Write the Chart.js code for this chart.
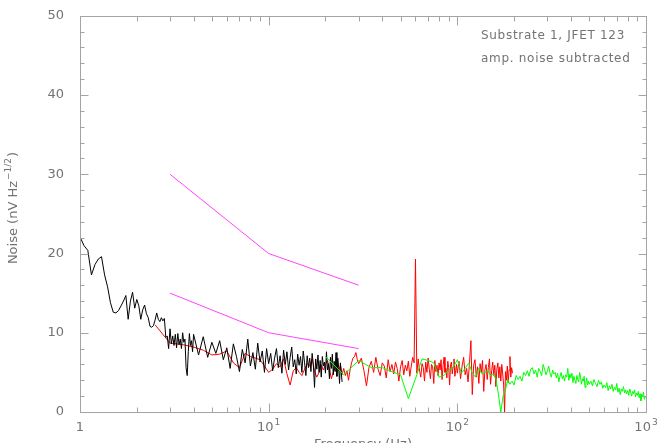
<!DOCTYPE html>
<html>
<head>
<meta charset="utf-8">
<title>Noise spectrum - Substrate 1, JFET 123</title>
<script src="https://cdn.jsdelivr.net/npm/chart.js@4/dist/chart.umd.min.js"></script>
<style>
  html, body { margin: 0; padding: 0; background: #fff; overflow: hidden; }
  #chart { display: block; }
</style>
</head>
<body>
<canvas id="chart" width="658" height="443"></canvas>
<script>
// Noise spectra (values in nV/sqrt(Hz))

// black trace: 1.00 - 4.00 Hz in 0.05 Hz bins, then 4.25 - 24.5 Hz in 0.25 Hz bins
const blackLow = [
    22.1, 21.0, 20.4, 17.3, 18.6, 19.3, 19.6, 17.3, 15.8, 13.8,
    12.6, 12.5, 12.8, 13.4, 14.0, 14.7, 11.7, 14.0, 15.1, 13.1,
    14.2, 13.4, 11.7, 12.9, 13.5, 12.4, 11.9, 10.8, 10.7, 10.9,
    11.6, 12.5, 11.7, 11.4, 11.9, 11.5, 11.8, 9.4, 9.6, 8.0,
    10.5, 8.6, 9.6, 8.4, 9.8, 8.1, 9.9, 8.5, 9.2, 8.0,
    10.0, 8.8, 9.2, 5.6, 4.6, 7.6, 9.9, 8.4, 9.0, 7.6,
    9.8
];
const blackHigh = [
    7.2, 9.5, 6.9, 8.8, 7.4, 9.0, 6.6, 8.1,
    5.5, 8.6, 7.0, 5.1, 7.9, 6.2, 9.2, 5.8,
    7.5, 5.4, 8.7, 6.3, 7.7, 5.0, 8.0, 6.1,
    7.4, 5.2, 6.8, 8.0, 5.6, 7.1, 4.9, 7.8,
    6.0, 7.6, 5.3, 6.9, 8.2, 5.7, 6.6, 4.8,
    7.3, 5.9, 7.0, 5.0, 7.7, 6.2, 4.6, 7.1,
    5.6, 6.8, 5.1, 7.4, 6.0, 3.1, 6.7, 5.4,
    7.2, 5.0, 6.5, 4.4, 7.0, 5.8, 6.3, 4.9,
    7.6, 5.3, 6.1, 4.2, 6.9, 5.5, 7.3, 4.7,
    6.4, 5.1, 7.5, 4.5, 6.8, 5.6, 3.6, 6.2,
    5.0, 3.8
];

// red trace: 2.5 - 30 Hz (0.5 Hz bins), 31 - 100 Hz (1 Hz), 102 - 196 Hz (2 Hz)
const redLow = [
    11.0, 8.7, 8.5, 8.2, 7.8, 7.2, 7.3, 7.7, 6.2, 5.6,
    7.4, 7.0, 6.8, 6.6, 5.8, 5.0, 5.4, 6.1, 5.7, 6.7,
    4.8, 3.4, 5.2, 5.6, 5.0, 4.6, 5.4, 6.1, 5.8, 6.7,
    5.1, 4.4, 5.0, 5.9, 5.3, 6.0, 6.5, 5.4, 4.2, 5.0,
    5.6, 6.3, 5.2, 5.9, 4.7, 5.5, 4.6, 5.2, 4.0, 5.3,
    6.2, 6.8, 7.0, 7.5, 6.6, 6.1
];
const redMid = [
    6.8, 5.2, 3.3, 5.6, 6.4, 5.0, 6.9, 5.4, 4.6, 6.2,
    5.8, 4.3, 6.6, 5.1, 6.0, 4.8, 6.3, 5.5, 3.9, 5.7,
    6.5, 4.7, 5.9, 5.2, 6.4, 4.5, 5.8, 6.9, 6.2, 19.3,
    4.9, 6.7, 5.3, 4.4, 6.1, 5.6, 3.9, 6.3, 5.0, 6.8,
    5.4, 4.2, 6.0, 5.7, 3.6, 6.5, 5.1, 5.9, 4.6, 6.2,
    5.3, 6.6, 4.1, 5.8, 6.9, 5.0, 5.5, 4.3, 6.4, 5.6,
    3.4, 5.9, 6.3, 4.8, 5.7, 6.7, 4.5, 5.2, 6.0, 4.9
];
const redHigh = [
    6.4, 4.2, 5.8, 6.9, 4.7, 5.5, 3.8, 6.2, 9.0, 2.2,
    5.9, 6.6, 4.4, 5.7, 3.6, 6.1, 5.0, 6.5, 2.6, 5.3,
    6.0, 4.1, 5.6, 6.7, 3.5, 5.2, 6.3, 4.6, 5.9, 3.2,
    5.4, 6.2, 4.3, 5.7, 3.9, 6.0, 4.8, 3.4, 0.0, 5.1,
    4.0, 5.8, 3.7, 5.3, 7.0, 4.4, 5.6, 4.9
];

// green trace: 20 - 500 Hz (5 Hz bins), 510 - 1000 Hz (10 Hz bins)
const greenLow = [
    7.0, 4.7, 6.5, 5.6, 5.6, 5.1, 4.7, 1.7, 4.2, 6.7,
    6.5, 6.2, 4.4, 4.6, 5.3, 5.6, 6.6, 4.9, 5.5, 6.2,
    4.9, 4.4, 5.5, 4.8, 5.0, 5.3, 4.6, 4.8, 4.2, 2.3,
    0.0, 2.1, 2.8, 4.1, 3.5, 3.9, 3.4, 4.6, 4.1, 4.5,
    3.9, 5.0, 4.6, 5.2, 4.5, 5.4, 5.6, 4.8, 5.3, 4.4,
    5.5, 5.1, 4.6, 6.0, 5.4, 4.7, 5.2, 5.8, 4.9, 4.4,
    5.3, 4.8, 5.0, 4.3, 4.9, 3.8, 4.5, 5.0, 4.2, 4.6,
    3.9, 4.7, 4.4, 5.5, 4.0, 4.8, 4.3, 4.9, 3.7, 4.5,
    4.0, 3.6, 4.6, 4.1, 3.8, 5.0, 4.4, 3.5, 4.2, 3.9,
    4.5, 3.1, 3.7, 4.3, 3.4, 3.9, 3.5
];
const greenHigh = [
    3.9, 3.3, 4.1, 3.6, 3.2, 4.0, 3.5, 3.8, 3.0, 3.4,
    3.1, 3.7, 2.7, 3.3, 2.9, 3.5, 2.6, 3.1, 2.8, 3.6,
    2.5, 3.0, 2.2, 2.9, 2.6, 3.2, 2.4, 2.8, 2.3, 2.7,
    2.1, 2.9, 2.5, 2.0, 2.6, 2.3, 2.8, 1.9, 2.4, 2.1,
    2.6, 1.8, 2.3, 1.4, 2.2, 1.9, 2.5, 1.6, 2.0, 1.8
];

// magenta reference lines
const limitFreqs = [3, 10, 30];
const limitUpper = [30, 20, 16];
const limitLower = [15, 10, 8];

// axes
const yMajorTicks = [0, 10, 20, 30, 40, 50];
const yMinorStep = 2;
const xDecades = [1, 10, 100, 1000];
const xDecadeExponents = ['', '1', '2', '3'];
const xMinorMultipliers = [2, 3, 4, 5, 6, 7, 8, 9];

const noteLines = ['Substrate 1, JFET 123', 'amp. noise subtracted'];

const axisColor = '#a4a4a4';
const textColor = '#737373';
const fontFamily = '"DejaVu Sans", "Liberation Sans", sans-serif';

// turn evenly binned values into {x, y} points
function bins(start, step, values) {
    return values.map((v, i) => ({ x: +(start + i * step).toFixed(3), y: v }));
}

function pairs(xs, ys) {
    return xs.map((x, i) => ({ x: x, y: ys[i] }));
}

function trace(points, color, order) {
    return {
        data: points,
        showLine: true,
        borderColor: color,
        backgroundColor: color,
        borderWidth: 1,
        pointRadius: 0,
        tension: 0,
        order: order
    };
}

// draws "base" followed by a raised, smaller "exp"
function drawPower(ctx, base, exp, x, baseline, align) {
    ctx.font = '13px ' + fontFamily;
    const wb = ctx.measureText(base).width;
    ctx.font = '9px ' + fontFamily;
    const we = exp ? ctx.measureText(exp).width + 1 : 0;
    let left = x;
    if (align === 'center') left = x - (wb + we) / 2;
    ctx.textAlign = 'left';
    ctx.font = '13px ' + fontFamily;
    ctx.fillText(base, left, baseline);
    if (exp) {
        ctx.font = '9px ' + fontFamily;
        ctx.fillText(exp, left + wb + 1, baseline - 6);
    }
}

const framePlugin = {
    id: 'frame',
    afterDraw(chart) {
        const ctx = chart.ctx;
        const a = chart.chartArea;
        const xs = chart.scales.x;
        const ys = chart.scales.y;
        const L = Math.round(a.left) + 0.5;
        const R = Math.round(a.right) + 0.5;
        const T = Math.round(a.top) + 0.5;
        const B = Math.round(a.bottom) + 0.5;

        ctx.save();
        ctx.strokeStyle = axisColor;
        ctx.lineWidth = 1;
        ctx.strokeRect(L, T, R - L, B - T);

        // y ticks on left and right, pointing inwards
        ctx.beginPath();
        for (let v = 0; v <= 50; v += yMinorStep) {
            const len = yMajorTicks.includes(v) ? 8 : 4;
            const py = Math.round(ys.getPixelForValue(v)) + 0.5;
            ctx.moveTo(L, py); ctx.lineTo(L + len, py);
            ctx.moveTo(R, py); ctx.lineTo(R - len, py);
        }
        // x ticks on bottom and top
        xDecades.forEach(d => {
            const px = Math.round(xs.getPixelForValue(d)) + 0.5;
            ctx.moveTo(px, B); ctx.lineTo(px, B - 9);
            ctx.moveTo(px, T); ctx.lineTo(px, T + 9);
            if (d < 1000) {
                xMinorMultipliers.forEach(m => {
                    const p = Math.round(xs.getPixelForValue(m * d)) + 0.5;
                    ctx.moveTo(p, B); ctx.lineTo(p, B - 5);
                    ctx.moveTo(p, T); ctx.lineTo(p, T + 5);
                });
            }
        });
        ctx.stroke();

        ctx.fillStyle = textColor;
        ctx.textBaseline = 'alphabetic';

        // x tick labels
        xDecades.forEach((d, i) => {
            const px = xs.getPixelForValue(d);
            drawPower(ctx, d === 1 ? '1' : '10', xDecadeExponents[i], px, 431, 'center');
        });

        // x title
        ctx.font = '13px ' + fontFamily;
        ctx.textAlign = 'center';
        ctx.fillText('Frequency (Hz)', (a.left + a.right) / 2, 448);

        // y title, rotated
        ctx.save();
        ctx.translate(17, 208);
        ctx.rotate(-Math.PI / 2);
        ctx.font = '13px ' + fontFamily;
        const p1 = 'Noise (nV Hz';
        const w1 = ctx.measureText(p1).width;
        ctx.font = '9px ' + fontFamily;
        const w2 = ctx.measureText('\u22121/2').width;
        ctx.font = '13px ' + fontFamily;
        const w3 = ctx.measureText(')').width;
        const start = -(w1 + w2 + w3 + 2) / 2;
        ctx.textAlign = 'left';
        ctx.fillText(p1, start, 0);
        ctx.font = '9px ' + fontFamily;
        ctx.fillText('\u22121/2', start + w1 + 1, -6);
        ctx.font = '13px ' + fontFamily;
        ctx.fillText(')', start + w1 + w2 + 2, 0);
        ctx.restore();

        // annotation in the top right corner
        ctx.font = '12px ' + fontFamily;
        ctx.textAlign = 'left';
        ctx.letterSpacing = '0.7px';
        ctx.fillText(noteLines[0], 481, 39);
        ctx.fillText(noteLines[1], 481, 62);
        ctx.letterSpacing = '0px';

        ctx.restore();
    }
};

const ctx = document.getElementById('chart');

new Chart(ctx, {
    type: 'scatter',
    data: {
        datasets: [
            trace(pairs(limitFreqs, limitUpper), '#ff44ff', 0),
            trace(pairs(limitFreqs, limitLower), '#ff44ff', 0),
            trace(bins(20, 5, greenLow).concat(bins(510, 10, greenHigh)), '#00ff00', 1),
            trace(bins(1, 0.05, blackLow).concat(bins(4.25, 0.25, blackHigh)), '#000000', 2),
            trace(bins(2.5, 0.5, redLow).concat(bins(31, 1, redMid), bins(102, 2, redHigh)), '#ff0000', 3)
        ]
    },
    options: {
        responsive: false,
        animation: false,
        devicePixelRatio: 1,
        layout: { padding: { top: 12, right: 12, left: 0, bottom: 0 } },
        plugins: {
            legend: { display: false },
            tooltip: { enabled: false }
        },
        scales: {
            x: {
                type: 'logarithmic',
                min: 1,
                max: 1000,
                grid: { display: false },
                border: { display: false },
                ticks: { display: false },
                afterFit: scale => { scale.height = 31; }
            },
            y: {
                min: 0,
                max: 50,
                grid: { display: false },
                border: { display: false },
                ticks: {
                    stepSize: 10,
                    padding: 8,
                    color: textColor,
                    font: { family: fontFamily, size: 13 }
                },
                afterFit: scale => { scale.width = 80; }
            }
        }
    },
    plugins: [framePlugin]
});
</script>
</body>
</html>
